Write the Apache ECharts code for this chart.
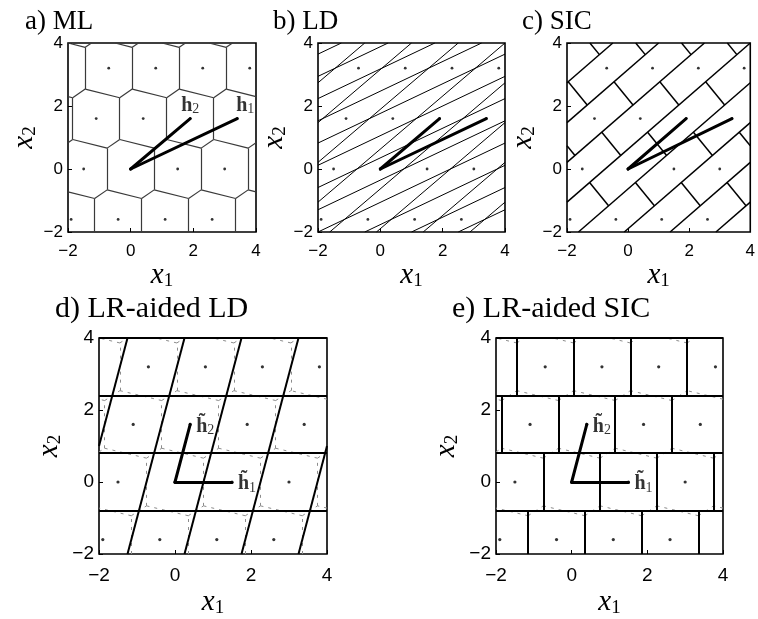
<!DOCTYPE html>
<html><head><meta charset="utf-8">
<script src="https://cdn.jsdelivr.net/npm/echarts@6/dist/echarts.min.js"></script>
<style>html,body{margin:0;padding:0;background:#fff}#c{width:758px;height:619px}</style>
</head><body><div id="c"></div>
<script>
// ---- data ----
const axisTicks = [-2, 0, 2, 4];
const basisH1 = [3.4, 1.6];      // h1
const basisH2 = [1.9, 1.6];      // h2
const reducedH1 = [1.5, 0];      // LR-reduced h~1
const reducedH2 = [0.4, 1.6];    // LR-reduced h~2
const latticeDots = [
  [-1.9,-1.6],[-0.4,-1.6],[1.1,-1.6],[2.6,-1.6],
  [-1.5,0],[0,0],[1.5,0],[3.0,0],
  [-1.1,1.6],[0.4,1.6],[1.9,1.6],[3.4,1.6],
  [-0.7,3.2],[0.8,3.2],[2.3,3.2],[3.8,3.2]
];
const panelTitles = ['a) ML', 'b) LD', 'c) SIC', 'd) LR-aided LD', 'e) LR-aided SIC'];

// ---- geometry helpers ----
const LO = -2, HI = 4, EPS = 1e-7;
const add = (a,b)=>[a[0]+b[0],a[1]+b[1]];
const mul = (a,s)=>[a[0]*s,a[1]*s];
const dot = (a,b)=>a[0]*b[0]+a[1]*b[1];
function clip(p,q){
  let t0=0,t1=1; const dx=q[0]-p[0], dy=q[1]-p[1];
  const P=[-dx,dx,-dy,dy], Q=[p[0]-LO+EPS, HI+EPS-p[0], p[1]-LO+EPS, HI+EPS-p[1]];
  for(let i=0;i<4;i++){
    if(Math.abs(P[i])<1e-12){ if(Q[i]<0) return null; }
    else { const r=Q[i]/P[i];
      if(P[i]<0){ if(r>t1) return null; if(r>t0) t0=r; }
      else { if(r<t0) return null; if(r<t1) t1=r; } }
  }
  if(t1-t0<1e-9) return null;
  return [[p[0]+t0*dx,p[1]+t0*dy],[p[0]+t1*dx,p[1]+t1*dy]];
}
function pushSeg(arr,p,q){ const s=clip(p,q); if(s) arr.push({coords:s}); }
function lineFamily(off, dir, arr){
  for(let k=-14;k<=14;k++){
    const b=mul(off,k+0.5);
    pushSeg(arr, add(b,mul(dir,-30)), add(b,mul(dir,30)));
  }
}
function sicSegments(u, v){
  const arr=[]; lineFamily(v,u,arr);
  const lu=Math.hypot(u[0],u[1]); const n=[-u[1]/lu,u[0]/lu];
  const det=Math.abs(u[0]*v[1]-u[1]*v[0]); const w=det/lu/2;
  for(let a=-10;a<=10;a++) for(let b=-14;b<=14;b++){
    const c=add(mul(v,a),mul(u,b+0.5));
    pushSeg(arr, add(c,mul(n,-w)), add(c,mul(n,w)));
  }
  return arr;
}
function voronoiSegments(b1,b2){
  const rel=[b1,b2,add(b2,mul(b1,-1)),mul(b1,-1),mul(b2,-1),add(b1,mul(b2,-1))];
  const V=[];
  for(let i=0;i<6;i++){
    const u=rel[i], v=rel[(i+1)%6];
    const cu=dot(u,u)/2, cv=dot(v,v)/2, d=u[0]*v[1]-u[1]*v[0];
    V.push([(cu*v[1]-cv*u[1])/d,(u[0]*cv-v[0]*cu)/d]);
  }
  const arr=[], seen=new Set();
  for(let a=-6;a<=6;a++) for(let b=-6;b<=6;b++){
    const p=add(mul(b1,a),mul(b2,b));
    if(p[0]<-5||p[0]>7||p[1]<-5||p[1]>7) continue;
    for(let i=0;i<6;i++){
      const A=add(p,V[i]), B=add(p,V[(i+1)%6]);
      const k1=A.map(x=>x.toFixed(3)).join(','), k2=B.map(x=>x.toFixed(3)).join(',');
      const key=k1<k2?k1+'|'+k2:k2+'|'+k1;
      if(seen.has(key)) continue; seen.add(key);
      pushSeg(arr,A,B);
    }
  }
  return arr;
}

// ---- layout ----
const grids = [
  {left:68, top:43, width:188, height:189},
  {left:318, top:43, width:187, height:189},
  {left:567, top:43, width:188, height:189},
  {left:99, top:338, width:228, height:228},
  {left:496, top:338, width:227, height:228}
];
const titlePos = [[25,8],[273,8],[522,8],[55,294],[452,294]];
const big = grids.map((g,i)=>i>=3);

const rich = {
  i:{fontFamily:'Liberation Serif',fontStyle:'italic',fontSize:29,color:'#000'},
  s:{fontFamily:'Liberation Serif',fontSize:19,color:'#000',padding:[12,0,0,0]}
};
const fmt = v => String(v).replace('-','\u2212');

const option = {
  animation:false,
  backgroundColor:'#fff',
  title: panelTitles.map((t,i)=>({text:t,left:titlePos[i][0],top:titlePos[i][1],padding:0,
    textStyle:{fontFamily:'Liberation Serif',fontSize:big[i]?30:27,fontWeight:'normal',color:'#000'}})),
  grid: grids.map(g=>Object.assign({show:true,borderColor:'#000',borderWidth:1.6,backgroundColor:'transparent'},g)),
  xAxis: grids.map((g,i)=>({gridIndex:i,type:'value',min:-2,max:4,interval:2,
    axisLine:{show:false,onZero:false},splitLine:{show:false},
    axisTick:{inside:true,length:4,lineStyle:{color:'#000'}},
    axisLabel:{color:'#000',fontSize:big[i]?19:17,fontFamily:'Liberation Sans',margin:big[i]?12:11,formatter:fmt},
    name:'{i|x}{s|1}',nameLocation:'middle',nameGap:big[i]?33:27,nameTextStyle:{rich}})),
  yAxis: grids.map((g,i)=>({gridIndex:i,type:'value',min:-2,max:4,interval:2,
    axisLine:{show:false,onZero:false},splitLine:{show:false},
    axisTick:{inside:true,length:4,lineStyle:{color:'#000'}},
    axisLabel:{color:'#000',fontSize:big[i]?19:17,fontFamily:'Liberation Sans',margin:5,formatter:fmt},
    name:'{i|x}{s|2}',nameLocation:'middle',nameGap:big[i]?34:28,nameTextStyle:{rich}})),
  series: []
};

function linesSeries(i,data,style,z){
  option.series.push({type:'lines',coordinateSystem:'cartesian2d',xAxisIndex:i,yAxisIndex:i,
    silent:true,z:z,data:data,lineStyle:Object.assign({opacity:1,cap:'butt'},style)});
}

linesSeries(0, voronoiSegments(reducedH1,reducedH2), {color:'#3a3a3a',width:1.2}, 2);
const ld=[]; lineFamily(basisH1,basisH2,ld); lineFamily(basisH2,basisH1,ld);
linesSeries(1, ld, {color:'#000',width:1}, 2);
linesSeries(2, sicSegments(basisH2,basisH1), {color:'#000',width:1.5}, 2);
linesSeries(3, voronoiSegments(reducedH1,reducedH2), {color:'#8c8c8c',width:1,type:[3,5]}, 1);
const lrld=[]; lineFamily(reducedH1,reducedH2,lrld); lineFamily(reducedH2,reducedH1,lrld);
linesSeries(3, lrld, {color:'#000',width:2}, 2);
linesSeries(4, voronoiSegments(reducedH1,reducedH2), {color:'#8c8c8c',width:1,type:[3,5]}, 1);
linesSeries(4, sicSegments(reducedH1,reducedH2), {color:'#000',width:2}, 2);

const hRich = {
  b:{fontFamily:'Liberation Serif',fontWeight:'bold',fontSize:20,color:'#000'},
  s:{fontFamily:'Liberation Serif',fontSize:14,color:'#000',padding:[8,0,0,0]}
};
for(let i=0;i<5;i++){
  option.series.push({type:'scatter',xAxisIndex:i,yAxisIndex:i,silent:true,z:3,
    symbol:'circle',symbolSize:i>=3?3.2:2.8,itemStyle:{color:'#000'},data:latticeDots});
  const v1 = i<3?basisH1:reducedH1, v2 = i<3?basisH2:reducedH2;
  linesSeries(i, [{coords:[[0,0],v1]},{coords:[[0,0],v2]}], {color:'#000',width:3,cap:'round'}, 4);
}
const hLabel = (i,pt,txt,pos,off)=>option.series.push({type:'scatter',xAxisIndex:i,yAxisIndex:i,silent:true,z:5,
  symbolSize:0,data:[pt],label:{show:true,position:pos,distance:2,offset:off,formatter:txt,rich:hRich}});
hLabel(0, basisH2, '{b|h}{s|2}', 'top', [0,0]);
hLabel(0, basisH1, '{b|h}{s|1}', 'top', [8,0]);
hLabel(3, reducedH2, '{b|h\u0303}{s|2}', 'right', [4,2]);
hLabel(3, reducedH1, '{b|h\u0303}{s|1}', 'right', [4,2]);
hLabel(4, reducedH2, '{b|h\u0303}{s|2}', 'right', [4,2]);
hLabel(4, reducedH1, '{b|h\u0303}{s|1}', 'right', [4,2]);

const chart = echarts.init(document.getElementById('c'));
chart.setOption(option);
</script></body></html>
